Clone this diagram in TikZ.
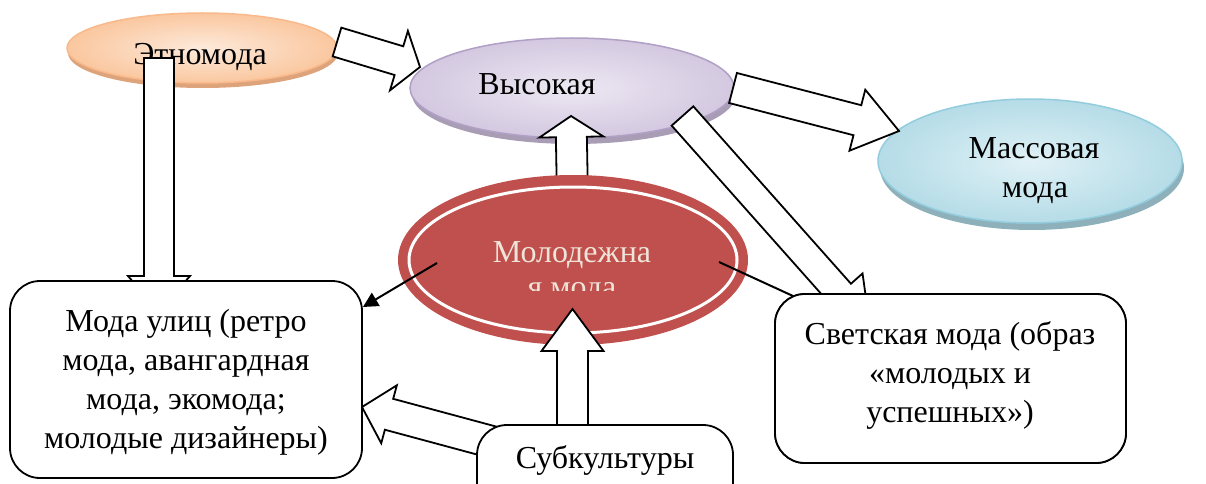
\documentclass[tikz,border=0pt]{standalone}
\usepackage{fontspec}
\setmainfont{Liberation Serif}
\usetikzlibrary{shapes.geometric,calc,arrows.meta}
\definecolor{ethnoFill}{HTML}{FDEADB}
\definecolor{ethnoOut}{HTML}{FAC79F}
\definecolor{ethnoLine}{HTML}{F9B98B}
\definecolor{ethnoShadow}{HTML}{DDA47C}
\definecolor{highFill}{HTML}{EDE8F3}
\definecolor{highOut}{HTML}{D3C8E0}
\definecolor{highLine}{HTML}{B1A0C6}
\definecolor{highShadow}{HTML}{A99DB6}
\definecolor{massFill}{HTML}{E0F1F6}
\definecolor{massOut}{HTML}{B5DCE7}
\definecolor{massLine}{HTML}{93CDDD}
\definecolor{massShadow}{HTML}{8DB0BB}
\definecolor{youthRed}{HTML}{C0504D}
\definecolor{youthText}{HTML}{EFE4D8}
\newcommand\BlkArrow[5]{%
  \path ($(#2)!#5!(#1)$) coordinate (ba-n);
  \draw[blockarrow] ($(#1)!#3!90:(#2)$) -- ($(ba-n)!#3!90:(#2)$) -- ($(ba-n)!#4!90:(#2)$) -- (#2)
    -- ($(ba-n)!#4!-90:(#2)$) -- ($(ba-n)!#3!-90:(#2)$) -- ($(#1)!#3!-90:(#2)$) -- cycle;
}
\tikzset{
  txt/.style={font=\fontsize{32}{39}\selectfont, inner sep=0pt, align=center},
  oval/.style={ellipse, inner sep=0pt, line width=1.5pt},
  blockarrow/.style={draw=black, fill=white, line width=1.8pt, line join=miter},
  roundbox/.style={draw=black, fill=white, line width=1.8pt, rounded corners=30pt, inner sep=0pt},
  thinline/.style={draw=black, line width=2pt},
}
\begin{document}
\begin{tikzpicture}[x=1pt,y=-1pt]
\useasboundingbox (0,0) rectangle (1206,484);
% Этномода
\node[oval, fill=ethnoShadow, minimum width=270pt, minimum height=70pt] (ethnoS) at (203,53) {};
\node[oval, draw=ethnoLine, inner color=ethnoFill, outer color=ethnoOut, minimum width=270pt, minimum height=70pt] (ethno) at (202,48) {};
\node[txt, anchor=base] (ethnoT) at (200,65) {Этномода};
% Высокая
\node[oval, fill=highShadow, minimum width=324pt, minimum height=100pt] (highS) at (574,94) {};
\node[oval, draw=highLine, inner color=highFill, outer color=highOut, minimum width=324pt, minimum height=100pt] (high) at (572,88) {};
\node[txt, anchor=base] (highT) at (537,95) {Высокая};
% Массовая мода
\node[oval, fill=massShadow, minimum width=304pt, minimum height=124pt] (massS) at (1032,168) {};
\node[oval, draw=massLine, inner color=massFill, outer color=massOut, minimum width=304pt, minimum height=124pt] (mass) at (1030,161) {};
\node[txt, anchor=base] (massT1) at (1034,158) {Массовая};
\node[txt, anchor=base] (massT2) at (1035,197) {мода};
% block arrows (upper part)
\coordinate (a1s) at (337,42);   \coordinate (a1e) at (420,67);
\BlkArrow{a1s}{a1e}{15pt}{31pt}{22pt}
\coordinate (a2s) at (733,88);   \coordinate (a2e) at (899,131);
\BlkArrow{a2s}{a2e}{15.5pt}{31.5pt}{43pt}
\coordinate (a3s) at (682.5,116); \coordinate (a3e) at (870,327);
\BlkArrow{a3s}{a3e}{14.5pt}{30pt}{45pt}
\coordinate (a4s) at (572.5,200); \coordinate (a4e) at (571,116);
\BlkArrow{a4s}{a4e}{15.5pt}{32pt}{21pt}
\coordinate (a7s) at (159,58);   \coordinate (a7e) at (159,312);
\BlkArrow{a7s}{a7e}{15pt}{31pt}{36pt}
% Молодежная мода
\node[oval, fill=youthRed, minimum width=350pt, minimum height=170pt] (youth) at (573,260) {};
\draw[white, line width=3pt] (youth.center) ellipse [x radius=164pt, y radius=73pt];
\node[txt, anchor=base, text=youthText] (youthT1) at (572,262) {Молодежна};
\begin{scope}
  \clip (390,270) rectangle (760,290);
  \node[txt, anchor=base, text=youthText] (youthT2) at (572,297) {я мода};
\end{scope}
% block arrows (lower part)
\coordinate (a5s) at (572.5,430); \coordinate (a5e) at (572.5,309);
\BlkArrow{a5s}{a5e}{15.5pt}{31pt}{42pt}
\coordinate (a6s) at (492,442);  \coordinate (a6e) at (362,407);
\BlkArrow{a6s}{a6e}{16pt}{30pt}{28pt}
% thin connectors
\coordinate (l8s) at (437,263);
\coordinate (l9s) at (719,262);
% boxes
\node[roundbox, minimum width=352pt, minimum height=197pt] (street) at (186,379.5) {};
\node[roundbox, minimum width=351pt, minimum height=169pt] (social) at (950.5,378.5) {};
\node[roundbox, minimum width=256pt, minimum height=90pt] (sub) at (605,470) {};
\draw[thinline, -{Triangle[length=15pt,width=15pt]}] (l8s) -- (street.north east |- 0,307) coordinate (l8e);
\draw[thinline] (l9s) -- (793,296) coordinate (l9e);
\node[roundbox, minimum width=351pt, minimum height=169pt] (social2) at (950.5,378.5) {};
\node[txt] (streetT) at (186,382) {Мода улиц (ретро\\мода, авангардная\\мода, экомода;\\молодые дизайнеры)};
\node[txt] (socialT) at (950,375) {Светская мода (образ\\«молодых и\\успешных»)};
\node[txt, anchor=base] (subT) at (605,468) {Субкультуры};
\end{tikzpicture}
\end{document}
